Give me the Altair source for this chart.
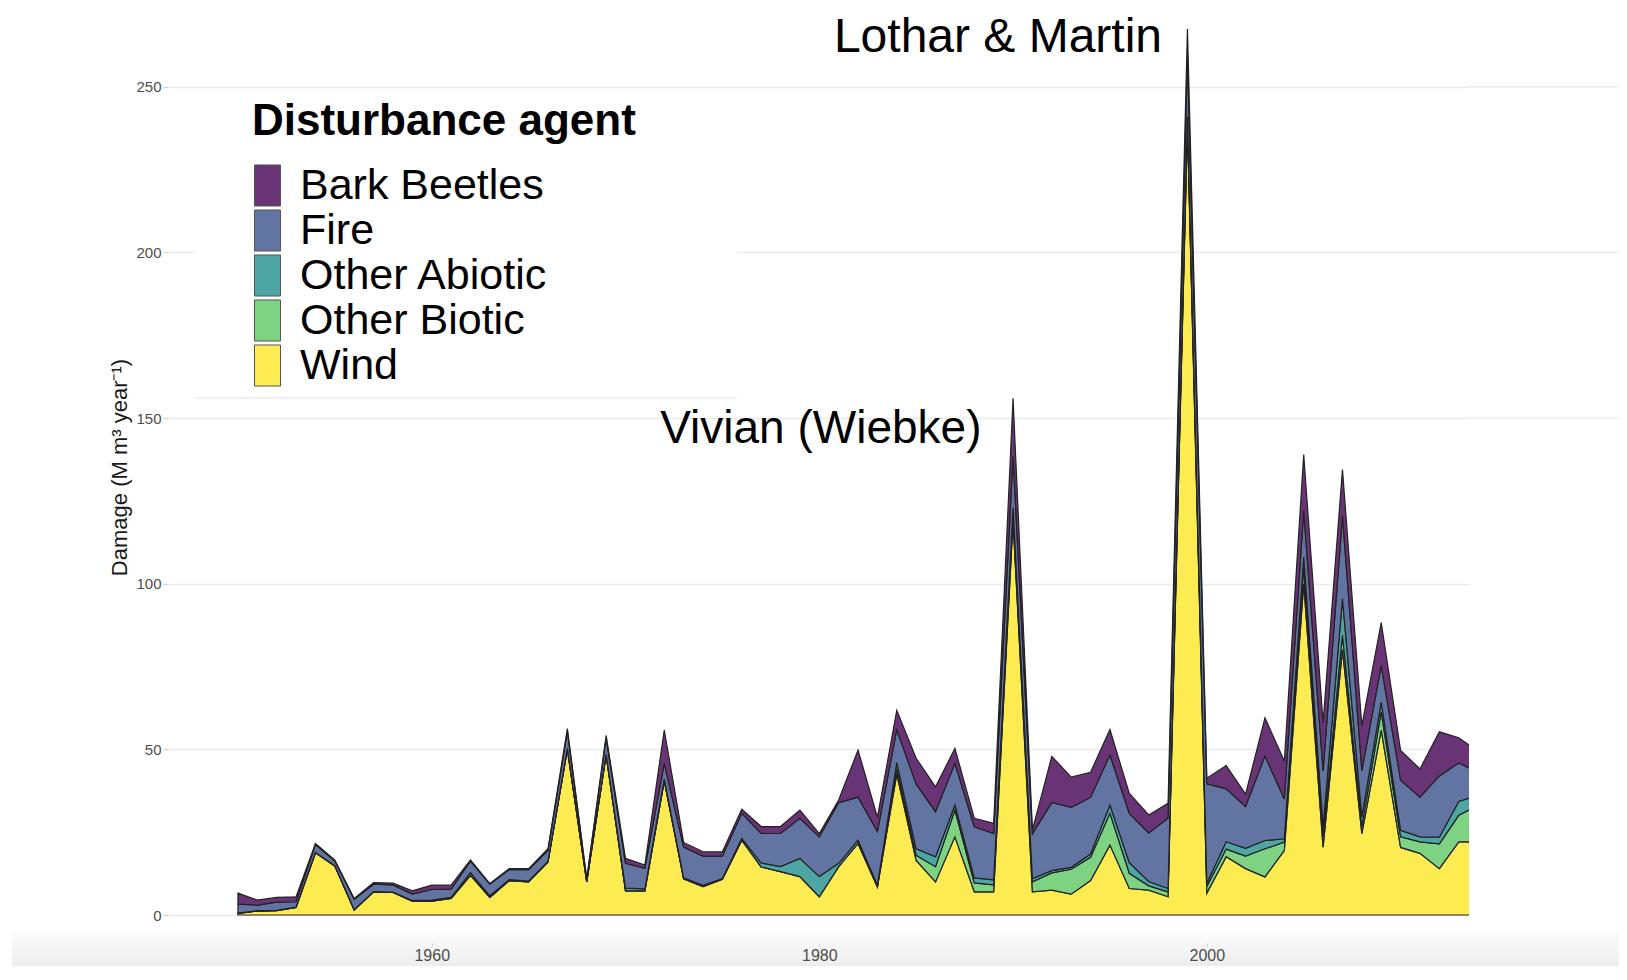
import altair as alt
import pandas as pd

# ---------------- data ----------------
years = list(range(1950, 2015))

wind = [0.5, 1.2, 1.3, 2.3, 18.8, 14.8, 1.5, 7.0, 6.8, 4.2,
        4.2, 5.0, 12.0, 5.3, 10.4, 10.0, 16.0, 50.0, 10.0, 48.3,
        7.3, 7.3, 40.5, 10.9, 8.6, 10.8, 22.6, 14.5, 13.1, 11.6,
        5.5, 14.6, 21.6, 8.5, 42.5, 16.5, 10.0, 23.6, 7.0, 7.0,
        119.0, 7.0, 7.5, 6.3, 10.4, 21.1, 8.0, 7.5, 5.5, 238.0,
        6.6, 17.6, 14.0, 11.5, 19.5, 100.0, 20.5, 80.0, 24.6, 55.8,
        20.4, 18.6, 14.0, 22.1, 22.1]

other_biotic = [0, 0, 0, 0, 0, 0, 0, 0, 0, 0,
                0, 0, 0, 0, 0, 0, 0, 0, 0, 0,
                0, 0, 0, 0, 0, 0, 0, 0, 0, 0,
                0, 0, 0, 0, 1.5, 1.5, 4.6, 8.1, 2.7, 2.1,
                1.5, 3.0, 5.2, 7.5, 7.0, 9.6, 4.6, 1.3, 1.5, 1.5,
                2.0, 2.3, 3.8, 8.5, 2.5, 5.0, 3.0, 4.5, 2.0, 5.5,
                3.2, 3.5, 7.5, 8.0, 11.0]

other_abiotic = [0.1, 0.1, 0.1, 0.1, 0.1, 0.1, 0.1, 0.1, 0.1, 0.2,
                 0.3, 0.3, 0.8, 0.5, 0.3, 0.2, 0.2, 0.3, 0.1, 0.2,
                 0.8, 0.6, 0.5, 0.3, 0.4, 0.2, 0.5, 1.2, 1.5, 5.5,
                 6.1, 1.0, 1.0, 0.5, 2.0, 2.0, 3.0, 1.5, 1.5, 1.5,
                 2.5, 1.0, 0.7, 0.6, 1.0, 2.5, 3.2, 1.3, 1.0, 1.5,
                 1.0, 2.2, 2.3, 2.5, 1.0, 3.0, 3.0, 11.0, 3.0, 3.0,
                 2.0, 1.5, 2.0, 4.2, 3.0]

fire = [2.7, 1.7, 2.5, 1.6, 2.4, 1.4, 3.1, 2.2, 2.2, 1.9,
        3.2, 2.5, 3.5, 3.5, 3.0, 3.5, 3.3, 5.2, 0.7, 5.0,
        7.5, 6.2, 4.8, 9.3, 8.8, 6.8, 7.6, 8.9, 10.0, 12.1,
        12.0, 18.3, 13.0, 16.2, 10.0, 19.5, 13.6, 12.6, 15.4, 14.0,
        15.5, 13.5, 20.6, 18.1, 17.1, 15.1, 14.9, 14.7, 21.2, 18.0,
        30.0, 16.0, 12.7, 25.5, 12.0, 14.0, 17.0, 25.0, 14.0, 11.0,
        15.1, 12.0, 18.5, 11.6, 7.0]

bark_beetles = [3.3, 1.5, 1.4, 1.5, 0.3, 0.3, 0.3, 0.5, 0.5, 1.0,
                1.3, 1.2, 0.3, 0.2, 0.3, 0.3, 0.5, 0.8, 0.2, 0.7,
                1.5, 1.0, 10.0, 1.4, 1.3, 1.3, 1.2, 2.1, 2.1, 2.5,
                1.0, 0.8, 14.2, 4.3, 5.8, 7.8, 7.5, 4.5, 2.6, 3.1,
                17.5, 1.2, 13.9, 9.1, 7.6, 7.7, 6.0, 5.4, 4.5, 8.5,
                1.7, 7.0, 3.7, 11.5, 11.5, 17.0, 14.5, 14.0, 13.5, 13.0,
                9.0, 8.5, 13.3, 7.6, 6.3]

agents = ["Bark Beetles", "Fire", "Other Abiotic", "Other Biotic", "Wind"]
agent_colors = ["#693476", "#6274a2", "#4da6a3", "#7dd382", "#fdec51"]
stack_rank = {"Wind": 0, "Other Biotic": 1, "Other Abiotic": 2, "Fire": 3, "Bark Beetles": 4}

y_ticks = [0, 50, 100, 150, 200, 250]
x_ticks = [1960, 1980, 2000]
upper_grid = [150, 200, 250]

storm_big = ["Lothar & Martin"]
storm_big_year = [1997.69]
storm_big_value = [260.5]
storm_small = ["Vivian (Wiebke)"]
storm_small_year = [1988.37]
storm_small_value = [142.5]

Y_TITLE = "Damage (M m³ year⁻¹)"

# ---------------- tables ----------------
series = {"Wind": wind, "Other Biotic": other_biotic, "Other Abiotic": other_abiotic,
          "Fire": fire, "Bark Beetles": bark_beetles}
rows = []
for name, vals in series.items():
    for yr, v in zip(years, vals):
        rows.append({"year": yr, "agent": name, "damage": v, "rank": stack_rank[name]})
df = pd.DataFrame(rows)
ann_big = pd.DataFrame({"label": storm_big, "year": storm_big_year, "value": storm_big_value})
ann_small = pd.DataFrame({"label": storm_small, "year": storm_small_year, "value": storm_small_value})
grid_df = pd.DataFrame({"v": upper_grid})
one = pd.DataFrame({"a": [0]})

# ---------------- layout ----------------
W = 1301
H = 931
X_DOM = [1946.39, 2013.53]
Y_DOM = [-8.45, 272.6]
GRID = "#ebebeb"
AXIS_FONT = "Liberation Sans"

xs = alt.Scale(domain=X_DOM, nice=False, zero=False)
ys = alt.Scale(domain=Y_DOM, nice=False, zero=False)

bottom_band = alt.Chart(one).mark_rect(
    color=alt.Gradient(
        gradient="linear",
        stops=[alt.GradientStop(offset=0, color="#ffffff"),
               alt.GradientStop(offset=1, color="#ebebeb")],
        x1=0, x2=0, y1=0, y2=1,
    )
).encode(x=alt.value(-156), x2=alt.value(W + 150), y=alt.value(915), y2=alt.value(958))

legend_box = alt.Chart(one).mark_rect(color="white").encode(
    x=alt.value(27), x2=alt.value(569), y=alt.value(80), y2=alt.value(386)
)
legend_line = alt.Chart(one).mark_rule(color=GRID, strokeWidth=1.5).encode(
    x=alt.value(27), x2=alt.value(569), y=alt.value(386)
)
grid_ext = alt.Chart(grid_df).mark_rule(color=GRID, strokeWidth=1.5).encode(
    y=alt.Y("v:Q", scale=ys, title=Y_TITLE),
    x=alt.value(W),
    x2=alt.value(W + 150),
)

areas = alt.Chart(df).mark_area(
    clip=True, stroke="#222222", strokeWidth=1.2, opacity=1
).encode(
    x=alt.X(
        "year:Q", scale=xs, title=None,
        axis=alt.Axis(values=x_ticks, format="d", title=None, grid=False, domain=False,
                      ticks=True, tickSize=3, tickColor="#cfcfcf", labelFont=AXIS_FONT,
                      labelFontSize=16, labelColor="#4d4d4d", labelPadding=1, zindex=1),
    ),
    y=alt.Y(
        "damage:Q", stack="zero", scale=ys, title=Y_TITLE,
        axis=alt.Axis(values=y_ticks, title=Y_TITLE, grid=True,
                      gridColor=GRID, gridWidth=1.5, domain=False, ticks=True,
                      tickSize=5, tickColor="#cfcfcf", labelFont=AXIS_FONT,
                      labelFontSize=15, labelColor="#4d4d4d", labelPadding=2,
                      titleFont=AXIS_FONT, titleFontSize=22, titleFontWeight="normal",
                      titleColor="#1a1a1a", titleX=-49, titleY=455, titleAngle=270,
                      titleAlign="center", titleBaseline="middle", zindex=0),
    ),
    color=alt.Color(
        "agent:N",
        scale=alt.Scale(domain=agents, range=agent_colors),
        legend=alt.Legend(
            orient="none", legendX=84, legendY=88, title="Disturbance agent",
            titleFont=AXIS_FONT, titleFontSize=44, titleFontWeight="bold",
            titleColor="black", titleBaseline="top", titlePadding=20,
            titleLimit=900, labelFont=AXIS_FONT, labelFontSize=43,
            labelColor="black", labelOffset=5, labelLimit=900,
            symbolType="M-1,-1.08H0.37V1.08H-1Z", symbolSize=1444,
            symbolStrokeColor="#555555", symbolStrokeWidth=1, symbolOpacity=1,
            rowPadding=-6, padding=0,
        ),
    ),
    order=alt.Order("rank:Q", sort="ascending"),
)

text_big = alt.Chart(ann_big).mark_text(
    align="right", baseline="alphabetic", font="Liberation Sans", fontSize=48, color="black"
).encode(
    x=alt.X("year:Q", scale=xs, title=None),
    y=alt.Y("value:Q", scale=ys, title=Y_TITLE),
    text="label:N",
)
text_small = alt.Chart(ann_small).mark_text(
    align="right", baseline="alphabetic", font="Liberation Sans", fontSize=46, color="black"
).encode(
    x=alt.X("year:Q", scale=xs, title=None),
    y=alt.Y("value:Q", scale=ys, title=Y_TITLE),
    text="label:N",
)

chart = alt.layer(bottom_band, legend_box, legend_line, grid_ext, areas,
                  text_big, text_small).properties(
    width=W,
    height=H,
    padding={"left": 160, "top": 4, "right": 150, "bottom": 23},
    autosize=alt.AutoSizeParams(type="none"),
    background="white",
).configure_view(stroke=None)

chart.save("out.html", embed_options={"renderer": "svg", "actions": False})
